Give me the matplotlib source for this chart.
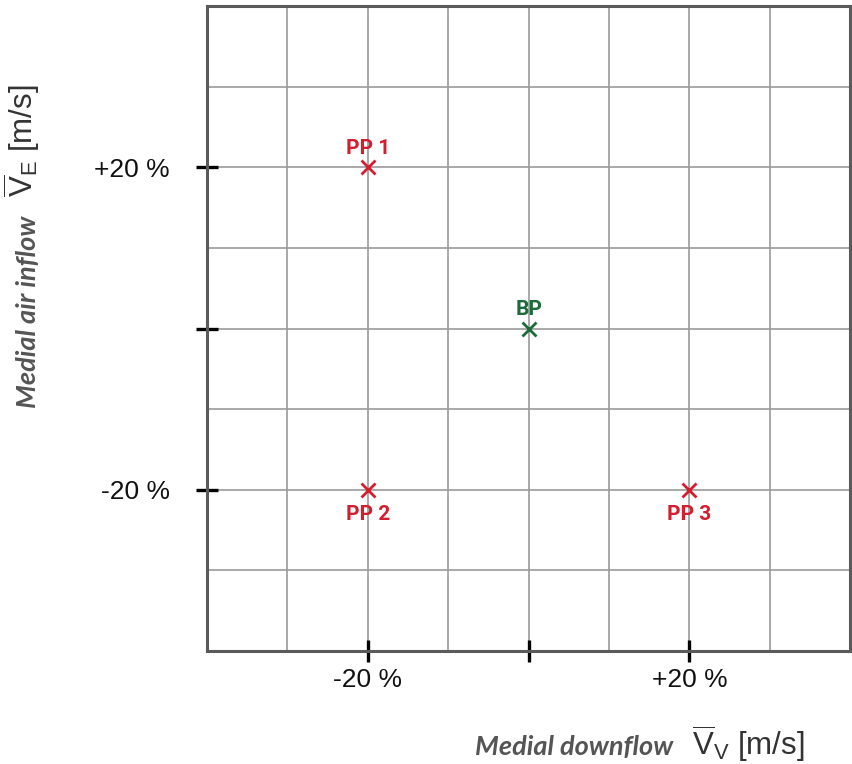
import matplotlib.pyplot as plt
import numpy as np

plt.rcParams['mathtext.fontset'] = 'custom'
plt.rcParams['mathtext.rm'] = 'Liberation Sans'

# operating points (% change of downflow / air inflow)
names = ['PP 1', 'BP', 'PP 2', 'PP 3']
dx = [-20, 0, -20, 20]
dy = [20, 0, -20, -20]
colors = ['#d11f2f', '#1d6b3a', '#d11f2f', '#d11f2f']
above = [True, True, False, False]

tick_vals = [-20, 0, 20]
tick_labels = ['-20 %', '', '+20 %']
grid_vals = np.arange(-40, 41, 10)

fig = plt.figure(figsize=(8.52, 7.64), dpi=100)
ax = fig.add_axes([0.243, 0.148, 0.755, 0.844])

ax.set_xlim(-40, 40)
ax.set_ylim(-40, 40)
ax.set_xticks(tick_vals)
ax.set_xticklabels(tick_labels)
ax.set_yticks(tick_vals)
ax.set_yticklabels(tick_labels)
for g in grid_vals[1:-1]:
    ax.axvline(g, color='#9a9a9a', lw=1.2, zorder=0)
    ax.axhline(g, color='#9a9a9a', lw=1.2, zorder=0)

ax.tick_params(which='major', direction='inout', length=16, width=2.4,
               color='black', labelsize=19, labelcolor='#111111')
ax.tick_params(axis='x', pad=4)
ax.tick_params(axis='y', pad=19)
for lab in ax.get_xticklabels() + ax.get_yticklabels():
    lab.set_fontfamily('Liberation Sans')

for s in ax.spines.values():
    s.set_color('#5a5a5a')
    s.set_linewidth(2.2)

for n, x, y, c, up in zip(names, dx, dy, colors, above):
    ax.plot(x, y, marker='x', ms=10, mew=2, color=c, ls='none')
    ax.annotate(n, (x, y), xytext=(0, 7 if up else -11), textcoords='offset points',
                ha='center', va='bottom' if up else 'top', color=c,
                fontsize=15, fontweight='bold', family='Roboto')

# axis titles
fig.text(0.790, 0.012, 'Medial downflow', ha='right', va='baseline', fontsize=19.5,
         fontweight='bold', style='italic', color='#555555', family='Lato')
fig.text(0.812, 0.012, r'$\overline{\mathrm{V}}_{\mathrm{V}}$ [m/s]', ha='left', va='baseline',
         fontsize=22.5, color='#333333', family='Liberation Sans')

fig.text(0.047, 0.718, 'Medial air inflow', ha='right', va='top', rotation=90,
         fontsize=19.5, fontweight='bold', style='italic', color='#555555', family='Lato')
fig.text(0.049, 0.742, r'$\overline{\mathrm{V}}_{\mathrm{E}}$ [m/s]', ha='right', va='bottom',
         rotation=90, fontsize=22.5, color='#333333', family='Liberation Sans')

fig.savefig('out.png', dpi=100)
